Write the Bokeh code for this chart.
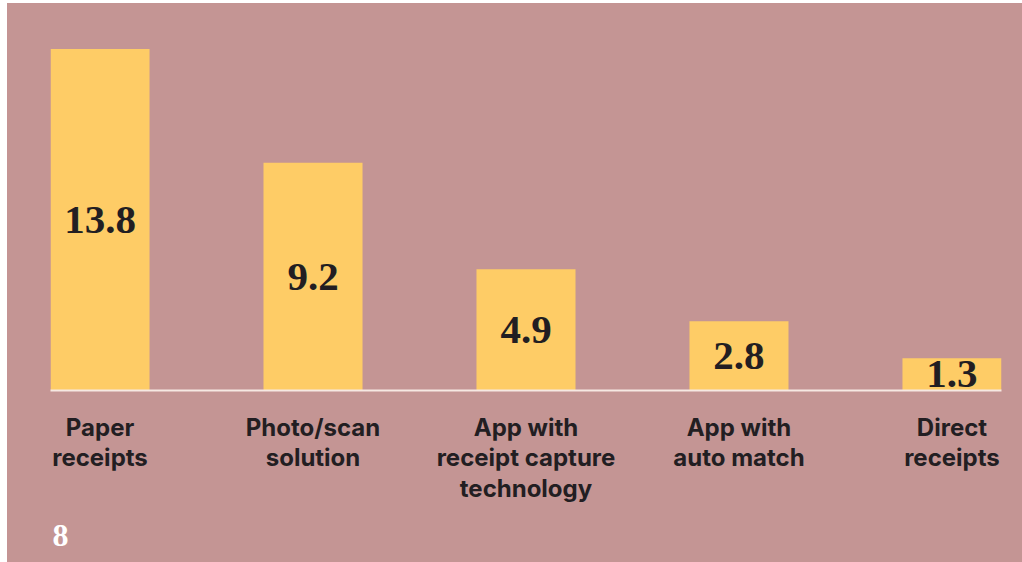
from bokeh.plotting import figure
from bokeh.models import Range1d, FixedTicker, Title, Spacer, ColumnDataSource
from bokeh.layouts import column, row
from bokeh.embed import file_html
from bokeh.resources import INLINE
from bokeh.core.properties import value

categories = ["Paper\nreceipts", "Photo/scan\nsolution", "App with\nreceipt capture\ntechnology",
              "App with\nauto match", "Direct\nreceipts"]
values = [13.8, 9.2, 4.9, 2.8, 1.3]
value_labels = ["13.8", "9.2", "4.9", "2.8", "1.3"]
page_number = "8"

BG = "#C49594"
BAR = "#FECC66"
INK = "#221E22"

idx = list(range(len(categories)))
bar_w = 0.465
src = ColumnDataSource(dict(x=idx, top=values, ymid=[v / 2 for v in values], lab=value_labels))

p = figure(width=1015, height=559, output_backend="svg", toolbar_location=None,
           x_range=Range1d(-bar_w / 2, idx[-1] + bar_w / 2), y_range=Range1d(0, 15.64),
           min_border_left=43, min_border_right=21, min_border_top=0, min_border_bottom=172)
p.background_fill_color = BG
p.border_fill_color = BG
p.outline_line_color = None
p.grid.visible = False
p.yaxis.visible = False

p.vbar(x="x", top="top", width=bar_w, source=src, fill_color=BAR, line_color=None)
p.text(x="x", y="ymid", text="lab", source=src, text_align="center", text_baseline="middle",
       text_font=value("Liberation Serif"), text_font_style="bold", text_font_size="41px",
       text_color=INK)

ax = p.xaxis[0]
ax.ticker = FixedTicker(ticks=idx)
ax.major_label_overrides = {i: c for i, c in zip(idx, categories)}
ax.axis_line_color = "#F6E8E2"
ax.axis_line_width = 2
ax.major_tick_line_color = None
ax.minor_tick_line_color = None
ax.major_label_standoff = 16
ax.major_label_text_font = "Inter"
ax.major_label_text_font_style = "bold"
ax.major_label_text_font_size = "24px"
ax.major_label_text_color = INK
ax.major_label_text_line_height = 1.06

p.add_layout(Title(text=page_number, align="left", offset=2, standoff=34,
                   text_font="Liberation Serif", text_font_style="bold", text_font_size="32px",
                   text_color="white", text_line_height=0.8), "below")

inner = column(p, styles={"background-color": BG})
layout = column(Spacer(height=3), row(Spacer(width=7), inner), spacing=0)
open("out.html", "w").write(file_html(layout, INLINE))
